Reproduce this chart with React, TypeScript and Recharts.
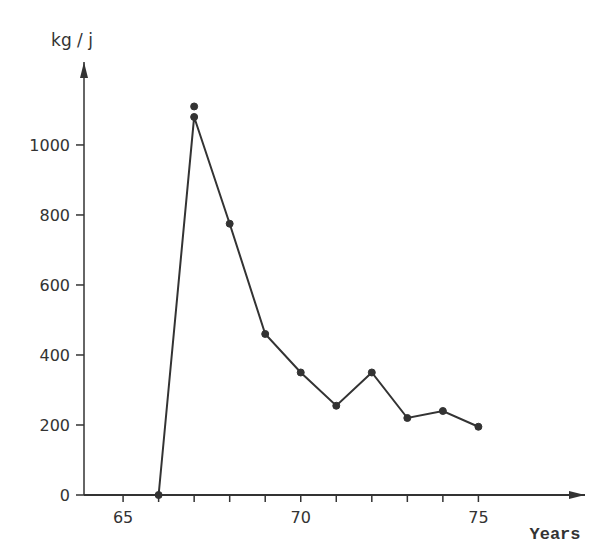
import React from "react";
import { LineChart, Line, XAxis, YAxis, ReferenceDot } from "recharts";

const years = [66, 67, 68, 69, 70, 71, 72, 73, 74, 75];
const catchKg = [0, 1080, 775, 460, 350, 255, 350, 220, 240, 195];
// second dot drawn just above the 1967 vertex in the original
const extraYears = [67];
const extraValues = [1110];

const xTicks = [65, 66, 67, 68, 69, 70, 71, 72, 73, 74, 75];
const xLabelled = [65, 70, 75];
const yTicks = [0, 200, 400, 600, 800, 1000];

const X_MIN = 63.9;
const X_MAX = 78;
const Y_MAX = 1237;

const ink = "#333";

const data = years.map((y, i) => {
  const k = extraYears.indexOf(y);
  return { year: y, value: catchKg[i], extra: k >= 0 ? extraValues[k] : null };
});

const ArrowRight = (p: any) => (
  <polygon
    points={`${p.cx},${p.cy} ${p.cx - 16},${p.cy - 4} ${p.cx - 16},${p.cy + 4}`}
    fill={ink}
  />
);

const ArrowUp = (p: any) => (
  <polygon
    points={`${p.cx},${p.cy} ${p.cx - 4},${p.cy + 16} ${p.cx + 4},${p.cy + 16}`}
    fill={ink}
  />
);

export default function App() {
  return (
    <div style={{ position: "absolute", left: 0, top: 0, background: "#fff" }}>
      <LineChart
        width={600}
        height={553}
        data={data}
        margin={{ top: 62, right: 15, left: 0, bottom: 28 }}
      >
        <XAxis
          dataKey="year"
          type="number"
          domain={[X_MIN, X_MAX]}
          ticks={xTicks}
          allowDataOverflow
          height={30}
          tickFormatter={(v: number) => (xLabelled.includes(v) ? String(v) : "")}
          axisLine={{ stroke: ink, strokeWidth: 2 }}
          tickLine={{ stroke: ink, strokeWidth: 1.5 }}
          tickSize={7}
          tickMargin={10}
          tick={{ fill: ink, fontSize: 16, fontFamily: "DejaVu Sans" }}
        />
        <YAxis
          type="number"
          domain={[0, Y_MAX]}
          ticks={yTicks}
          width={84}
          axisLine={{ stroke: ink, strokeWidth: 1.5 }}
          tickLine={{ stroke: ink, strokeWidth: 1.5 }}
          tickSize={8}
          tickMargin={6}
          tick={{ fill: ink, fontSize: 16, fontFamily: "DejaVu Sans" }}
        />
        <Line
          dataKey="value"
          stroke={ink}
          strokeWidth={2}
          dot={{ r: 3.5, fill: ink, stroke: ink, strokeWidth: 1 }}
          isAnimationActive={false}
        />
        <Line
          dataKey="extra"
          stroke="none"
          dot={{ r: 3.5, fill: ink, stroke: ink, strokeWidth: 1 }}
          isAnimationActive={false}
        />
        <ReferenceDot x={X_MAX} y={0} ifOverflow="visible" shape={ArrowRight} />
        <ReferenceDot x={X_MIN} y={Y_MAX} ifOverflow="visible" shape={ArrowUp} />
        <text x={72} y={46} textAnchor="middle" fontSize={17} fill={ink} fontFamily="DejaVu Sans">
          kg / j
        </text>
        <text
          x={555}
          y={539}
          textAnchor="middle"
          fontSize={17}
          fontWeight="bold"
          fill={ink}
          fontFamily="Liberation Mono"
        >
          Years
        </text>
      </LineChart>
    </div>
  );
}
